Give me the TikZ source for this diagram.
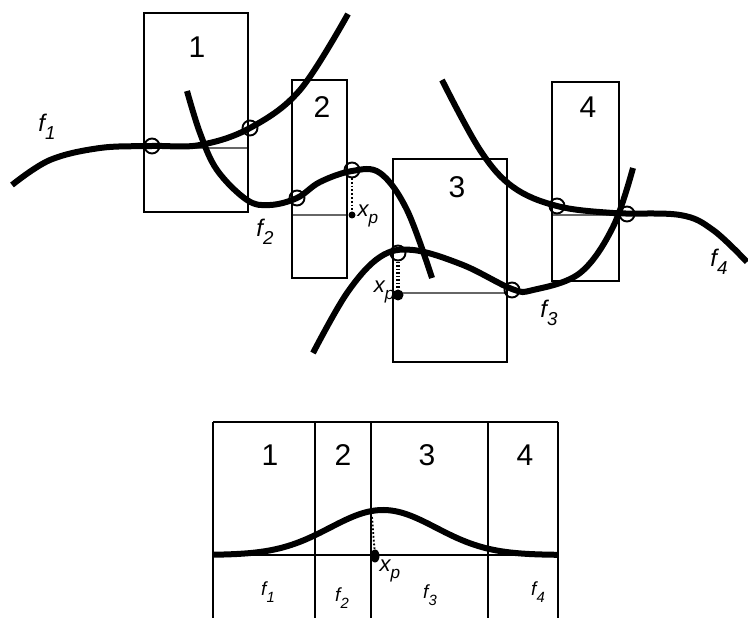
\documentclass[tikz,border=0pt]{standalone}
\usepackage{fontspec}
\usepackage{graphicx}
\setmainfont{Liberation Sans}
\newcommand{\lowsub}[1]{\raisebox{-0.35em}{\scalebox{0.78}{#1}}}
\begin{document}
\begin{tikzpicture}[x=1pt,y=-1pt,
    curve/.style={line width=6pt},
    patch/.style={line width=2.6pt},
    cut/.style={line width=1.1pt,black!60},
    grid/.style={line width=1.6pt},
    hit/.style={line width=1.9pt},
    num/.style={font=\fontsize{30}{30}\selectfont},
    flbl/.style={font=\fontsize{24}{24}\selectfont\itshape},
    fsmall/.style={font=\fontsize{19}{19}\selectfont\itshape},
    xlbl/.style={font=\fontsize{22}{22}\selectfont\itshape}]
    \useasboundingbox (0,0) rectangle (748,620);
    \draw[cut] (144,148) -- (248,148);
    \draw[cut] (292,215) -- (347,215);
    \draw[cut] (393,293) -- (507,293);
    \draw[cut] (552,215) -- (619,215);
    \draw[patch] (144,13) rectangle (248,212);
    \draw[patch] (292,80) rectangle (347,278);
    \draw[patch] (393,159) rectangle (507,362);
    \draw[patch] (552,82) rectangle (619,281);
    \node[num] (n1) at (197,47) {1};
    \node[num] (n2) at (322,107) {2};
    \node[num] (n3) at (457,187) {3};
    \node[num] (n4) at (588,107) {4};
    \draw[curve] plot[smooth,tension=0.6] coordinates {(12,185) (50,160) (100,148) (152,146) (200,145) (250,128) (300,90) (348,14)};
    \draw[curve] plot[smooth,tension=0.6] coordinates {(187,91) (200,133) (217,170) (247,200) (270,205) (297,198) (320,182) (352,171) (380,173) (407,210) (432,278)};
    \draw[curve] plot[smooth,tension=0.6] coordinates {(313,353) (347,293) (380,257) (413,250) (463,265) (512,289) (533,290) (580,273) (613,227) (633,168)};
    \draw[curve] plot[smooth,tension=0.6] coordinates {(442,80) (480,150) (513,187) (557,206) (613,213) (680,215) (713,230) (747,262)};
    \foreach \p in {(152,146),(250,128),(297,198),(352,170),(398,253),(512,290),(557,206),(627,214)}
        \draw[hit] \p circle (7.5);
    \node[flbl] (f1) at (47,127) {f\lowsub{1}};
    \node[flbl] (f2) at (265,232) {f\lowsub{2}};
    \node[flbl] (f3) at (549,313) {f\lowsub{3}};
    \node[flbl] (f4) at (719,262) {f\lowsub{4}};
    \coordinate (top2) at (352,178);
    \fill (352,215) circle (3.5) coordinate (dot2);
    \draw[dotted,line width=1.8pt] (top2) -- (dot2);
    \node[xlbl,anchor=west] (xp2) at (354,216) {x\lowsub{p}};
    \coordinate (top3) at (398,262);
    \fill (398,295) circle (5.5) coordinate (dot3);
    \draw[dash pattern=on 1.5pt off 2pt,line width=3.5pt] (top3) -- (dot3);
    \node[xlbl,anchor=east] (xp3) at (398,292) {x\lowsub{p}};
    \draw[grid] (213,422) -- (558,422);
    \draw[grid] (213,555) -- (558,555);
    \foreach \x in {213,315,371,488,558}
        \draw[grid] (\x,422) -- (\x,618);
    \node[num] (m1) at (270,455) {1};
    \node[num] (m2) at (343,455) {2};
    \node[num] (m3) at (427,455) {3};
    \node[num] (m4) at (525,455) {4};
    \draw[curve] plot[domain=213:558,samples=120,smooth] (\x,{555-45*exp(-((\x-383)/75)^2)});
    \coordinate (top5) at (372,517);
    \fill (375,556) ellipse (4.5 and 6.5) coordinate (dot5);
    \draw[dotted,line width=1.8pt] (top5) -- (dot5);
    \node[xlbl,anchor=west] (xp5) at (376,571) {x\lowsub{p}};
    \node[fsmall] (g1) at (268,592) {f\lowsub{1}};
    \node[fsmall] (g2) at (342,598) {f\lowsub{2}};
    \node[fsmall] (g3) at (430,595) {f\lowsub{3}};
    \node[fsmall] (g4) at (538,592) {f\lowsub{4}};
\end{tikzpicture}
\end{document}
